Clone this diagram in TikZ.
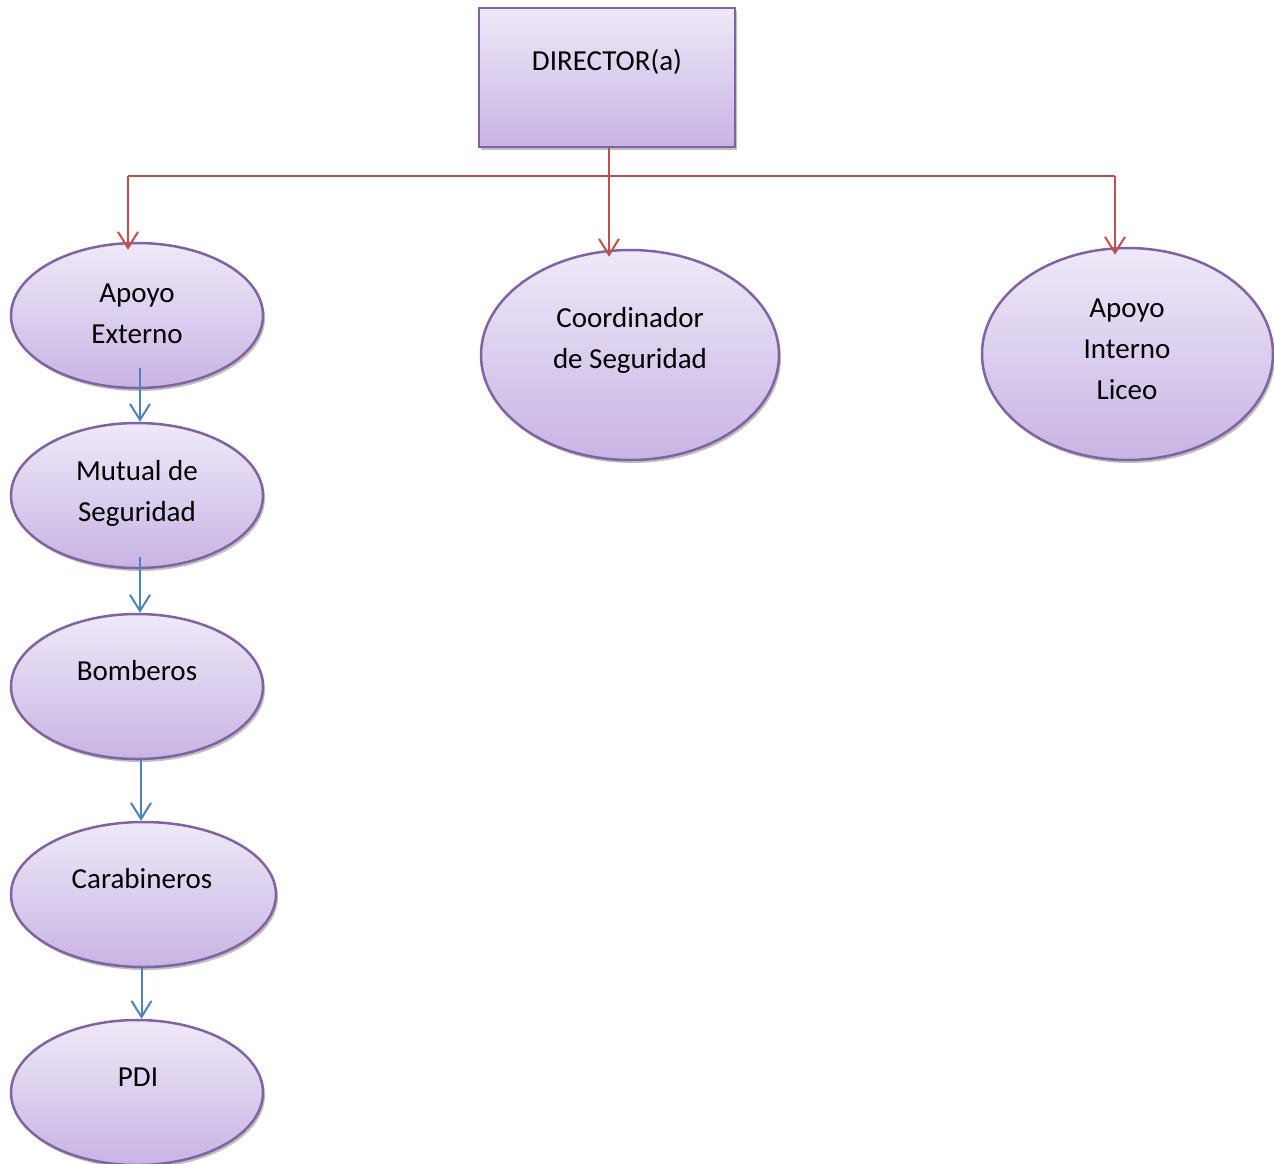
\documentclass[tikz,border=0pt]{standalone}
\usepackage{fontspec}
\setmainfont{Carlito}
\usetikzlibrary{shapes.geometric,arrows.meta,shadows}
\begin{document}
\begin{tikzpicture}[x=0.5pt, y=-0.5pt,
  box/.style={draw=MyPurple, line width=1.25pt, top color=MyLight, bottom color=MyDark,
    drop shadow={shadow xshift=1pt, shadow yshift=-1.5pt, opacity=0.25, fill=black}},
  oval/.style={box, ellipse, inner sep=0pt},
  lbl/.style={align=center, inner sep=0pt, font=\fontsize{14.5}{20.5}\selectfont},
  redline/.style={MyRed, line width=1pt},
  redarrow/.style={redline, shorten >=-4pt, -{Straight Barb[length=8pt,width=10pt]}},
  bluearrow/.style={MyBlue, line width=1pt, -{Straight Barb[length=8pt,width=10pt]}}]
\definecolor{MyPurple}{RGB}{128, 100, 162}
\definecolor{MyLight}{RGB}{238, 233, 248}
\definecolor{MyDark}{RGB}{200, 180, 228}
\definecolor{MyRed}{RGB}{192, 80, 77}
\definecolor{MyBlue}{RGB}{79, 129, 189}
\useasboundingbox (0,0) rectangle (1274,1163);
% boxes
\node[box, minimum width=128pt, minimum height=69.5pt] (dir) at (607,77.5) {};
\node[oval, minimum width=126pt, minimum height=72.5pt] (apoyoext) at (137,315.5) {};
\node[oval, minimum width=149pt, minimum height=105pt] (coord) at (630,355) {};
\node[oval, minimum width=145.5pt, minimum height=106pt] (apoyoint) at (1127.5,354) {};
\node[oval, minimum width=126pt, minimum height=72.5pt] (mutual) at (137,495.5) {};
\node[oval, minimum width=126pt, minimum height=72.5pt] (bomberos) at (137,686.5) {};
\node[oval, minimum width=132.5pt, minimum height=72.5pt] (carab) at (143.5,894.5) {};
\node[oval, minimum width=126pt, minimum height=72.5pt] (pdi) at (137,1092.5) {};
% texts
\node[lbl] (dir-t) at (607,62) {DIRECTOR(a)};
\node[lbl] (apoyoext-t) at (137,314) {Apoyo\\Externo};
\node[lbl] (coord-t) at (630,340) {Coordinador\\de Seguridad};
\node[lbl] (apoyoint-t) at (1127,349) {Apoyo\\Interno\\Liceo};
\node[lbl] (mutual-t) at (137,493) {Mutual de\\Seguridad};
\node[lbl] (bomberos-t) at (137,671) {Bomberos};
\node[lbl] (carab-t) at (142,879) {Carabineros};
\node[lbl] (pdi-t) at (138,1077) {PDI};
% red connectors
\coordinate (busL) at (128,176);
\coordinate (busR) at (1115,176);
\draw[redline] (busL) -- (busR);
\draw[redarrow] ([xshift=1pt]dir.south) -- ([xshift=1pt]dir.south |- coord.north);
\draw[redarrow] (busL) -- (busL |- apoyoext.north);
\draw[redarrow] (busR) -- (busR |- apoyoint.north);
% blue connectors
\foreach \a/\b/\s/\d in {apoyoext/mutual/10.5pt/1.5pt, mutual/bomberos/6pt/1.5pt, bomberos/carab/0pt/2pt, carab/pdi/0pt/-1pt}{
\draw[bluearrow, shorten <=-\s] ([xshift=\d]\a.south) -- ([xshift=\d]\a.south |- \b.north);
}
\end{tikzpicture}
\end{document}
